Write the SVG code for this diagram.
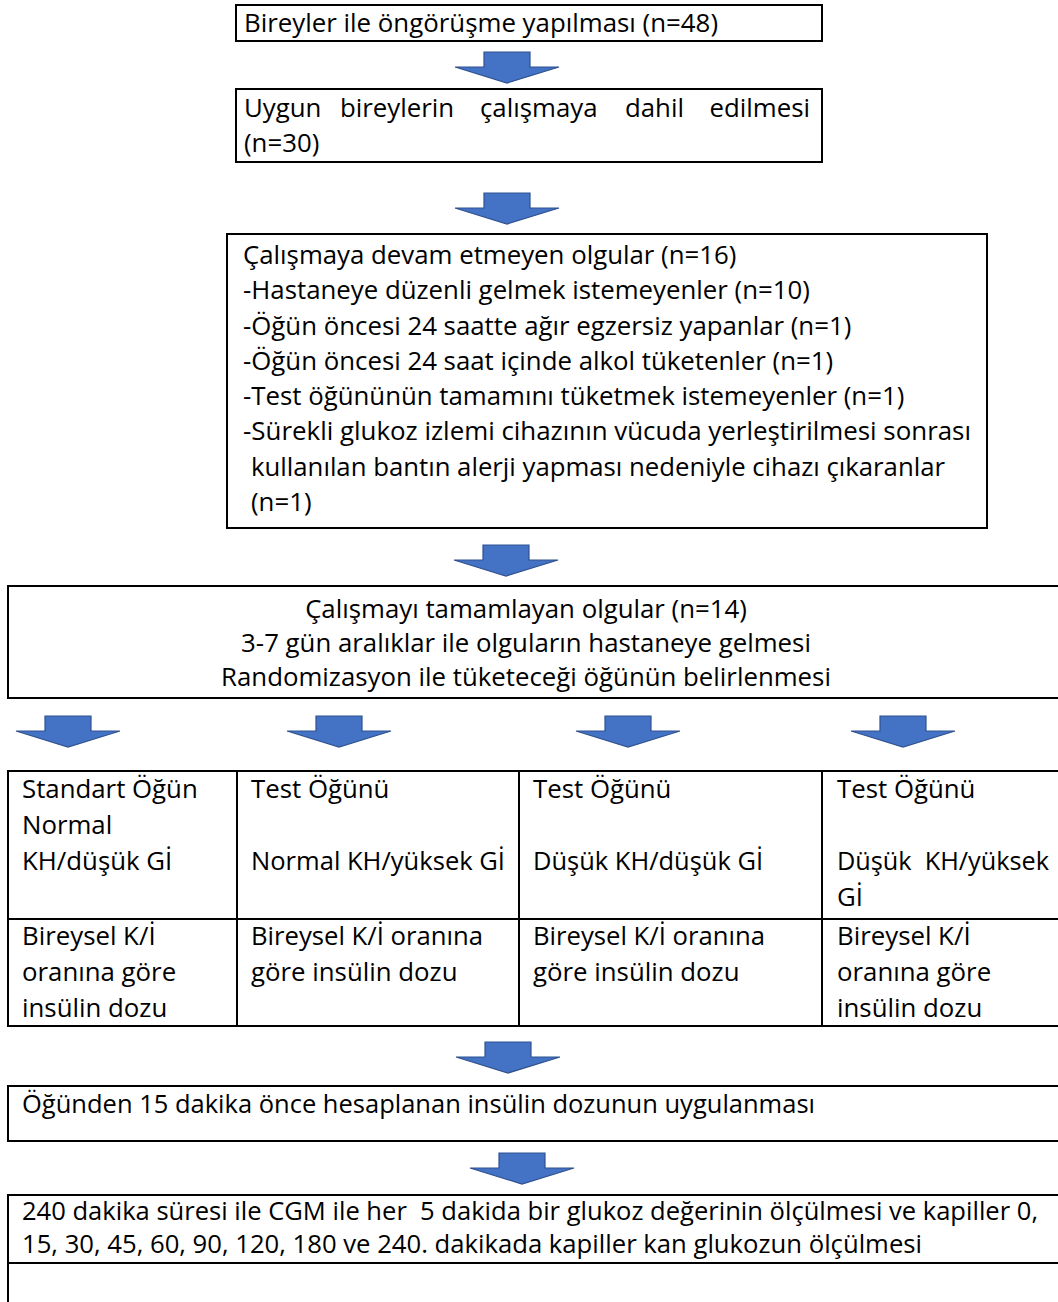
<svg xmlns="http://www.w3.org/2000/svg" xmlns:xlink="http://www.w3.org/1999/xlink" width="1058" height="1302" viewBox="0 0 1058 1302">
<style>
.box{fill:#fff;stroke:#000;stroke-width:2}
.ln{stroke:#000;stroke-width:2;fill:none}
.t{font-family:"Open Sans","Noto Sans","Liberation Sans",sans-serif;font-size:25.8px;fill:#000}
.m{text-anchor:middle}
.arr{fill:#4472C4;stroke:#2F528F;stroke-width:1.2;stroke-linejoin:miter}
</style>
<defs>
<path id="arr" d="M-23,0 H23 V15 H52 L0,31 L-52,15 H-23 Z"/>
</defs>
<rect width="1058" height="1302" fill="#fff"/>

<g id="connectors">
<use xlink:href="#arr" href="#arr" class="arr" x="507" y="52"/>
<use xlink:href="#arr" href="#arr" class="arr" x="507" y="193"/>
<use xlink:href="#arr" href="#arr" class="arr" x="506" y="545"/>
<use xlink:href="#arr" href="#arr" class="arr" x="68" y="716"/>
<use xlink:href="#arr" href="#arr" class="arr" x="339" y="716"/>
<use xlink:href="#arr" href="#arr" class="arr" x="628" y="716"/>
<use xlink:href="#arr" href="#arr" class="arr" x="903" y="716"/>
<use xlink:href="#arr" href="#arr" class="arr" x="508" y="1042"/>
<use xlink:href="#arr" href="#arr" class="arr" x="522" y="1153"/>
</g>

<g id="n1">
<rect class="box" x="236" y="5" width="586" height="36"/>
<text class="t" x="244" y="32" textLength="474" lengthAdjust="spacingAndGlyphs">Bireyler ile öngörüşme yapılması (n=48)</text>
</g>

<g id="n2">
<rect class="box" x="236" y="89" width="586" height="73"/>
<text class="t" y="117"><tspan x="244">Uygun</tspan><tspan x="340">bireylerin</tspan><tspan x="480">çalışmaya</tspan><tspan x="625">dahil</tspan><tspan x="810" text-anchor="end">edilmesi</tspan></text>
<text class="t" x="244" y="152">(n=30)</text>
</g>

<g id="n3">
<rect class="box" x="227" y="234" width="760" height="294"/>
<text class="t" x="243" y="264">Çalışmaya devam etmeyen olgular (n=16)</text>
<text class="t" x="243" y="299">-Hastaneye düzenli gelmek istemeyenler (n=10)</text>
<text class="t" x="243" y="335">-Öğün öncesi 24 saatte ağır egzersiz yapanlar (n=1)</text>
<text class="t" x="243" y="370">-Öğün öncesi 24 saat içinde alkol tüketenler (n=1)</text>
<text class="t" x="243" y="405">-Test öğününün tamamını tüketmek istemeyenler (n=1)</text>
<text class="t" x="243" y="440" textLength="728" lengthAdjust="spacingAndGlyphs">-Sürekli glukoz izlemi cihazının vücuda yerleştirilmesi sonrası</text>
<text class="t" x="251" y="476" textLength="694" lengthAdjust="spacingAndGlyphs">kullanılan bantın alerji yapması nedeniyle cihazı çıkaranlar</text>
<text class="t" x="251" y="511">(n=1)</text>
</g>

<g id="n4">
<rect class="box" x="8" y="586" width="1060" height="112"/>
<text class="t m" x="526" y="618">Çalışmayı tamamlayan olgular (n=14)</text>
<text class="t m" x="526" y="652">3-7 gün aralıklar ile olguların hastaneye gelmesi</text>
<text class="t m" x="526" y="686">Randomizasyon ile tüketeceği öğünün belirlenmesi</text>
</g>

<g id="n5">
<rect class="box" x="8" y="771" width="1060" height="255"/>
<line class="ln" x1="8" y1="919" x2="1068" y2="919"/>
<line class="ln" x1="237" y1="771" x2="237" y2="1026"/>
<line class="ln" x1="519" y1="771" x2="519" y2="1026"/>
<line class="ln" x1="822" y1="771" x2="822" y2="1026"/>
<g id="c1">
<text class="t" x="22" y="798">Standart Öğün</text>
<text class="t" x="22" y="834">Normal</text>
<text class="t" x="22" y="870">KH/düşük Gİ</text>
<text class="t" x="22" y="945">Bireysel K/İ</text>
<text class="t" x="22" y="981">oranına göre</text>
<text class="t" x="22" y="1017">insülin dozu</text>
</g>
<g id="c2">
<text class="t" x="251" y="798">Test Öğünü</text>
<text class="t" x="251" y="870" textLength="254" lengthAdjust="spacingAndGlyphs">Normal KH/yüksek Gİ</text>
<text class="t" x="251" y="945" textLength="232" lengthAdjust="spacingAndGlyphs">Bireysel K/İ oranına</text>
<text class="t" x="251" y="981">göre insülin dozu</text>
</g>
<g id="c3">
<text class="t" x="533" y="798">Test Öğünü</text>
<text class="t" x="533" y="870" textLength="230" lengthAdjust="spacingAndGlyphs">Düşük KH/düşük Gİ</text>
<text class="t" x="533" y="945" textLength="232" lengthAdjust="spacingAndGlyphs">Bireysel K/İ oranına</text>
<text class="t" x="533" y="981">göre insülin dozu</text>
</g>
<g id="c4">
<text class="t" x="837" y="798">Test Öğünü</text>
<text class="t" x="837" y="870" textLength="212" lengthAdjust="spacingAndGlyphs">Düşük&#160; KH/yüksek</text>
<text class="t" x="837" y="906">Gİ</text>
<text class="t" x="837" y="945">Bireysel K/İ</text>
<text class="t" x="837" y="981">oranına göre</text>
<text class="t" x="837" y="1017">insülin dozu</text>
</g>
</g>

<g id="n6">
<rect class="box" x="8" y="1086" width="1060" height="55"/>
<text class="t" x="22" y="1113" textLength="793" lengthAdjust="spacingAndGlyphs">Öğünden 15 dakika önce hesaplanan insülin dozunun uygulanması</text>
</g>

<g id="n7">
<rect class="box" x="8" y="1195" width="1060" height="120"/>
<line class="ln" x1="8" y1="1263" x2="1068" y2="1263"/>
<text class="t" x="22" y="1220" textLength="1016" lengthAdjust="spacingAndGlyphs">240 dakika süresi ile CGM ile her&#160; 5 dakida bir glukoz değerinin ölçülmesi ve kapiller 0,</text>
<text class="t" x="22" y="1253" textLength="900" lengthAdjust="spacingAndGlyphs">15, 30, 45, 60, 90, 120, 180 ve 240. dakikada kapiller kan glukozun ölçülmesi</text>
</g>
</svg>
